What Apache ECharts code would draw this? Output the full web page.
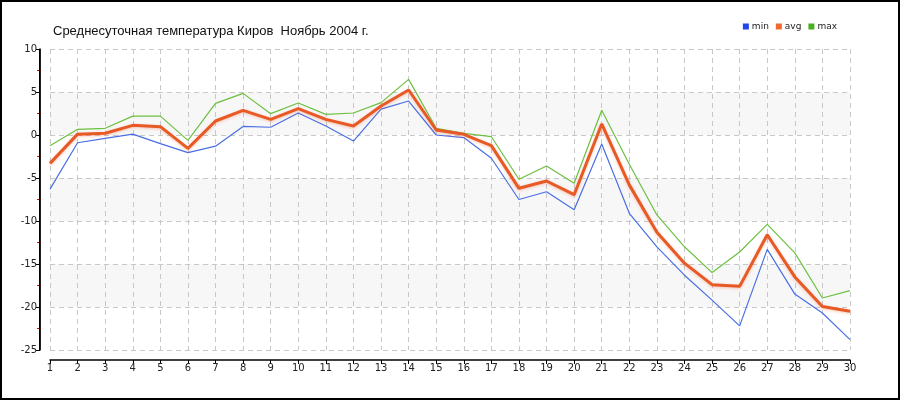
<!DOCTYPE html>
<html><head><meta charset="utf-8">
<script src="https://cdn.jsdelivr.net/npm/echarts@6/dist/echarts.min.js"></script>
<style>html,body{margin:0;padding:0;background:#fff}#c{width:900px;height:400px}</style>
</head><body><div id="c"></div>
<script>
const days = ['1','2','3','4','5','6','7','8','9','10','11','12','13','14','15','16','17','18','19','20','21','22','23','24','25','26','27','28','29','30'];
const minT = [-6.3,-0.9,-0.4,0.1,-1.0,-2.05,-1.3,1.0,0.9,2.56,1.05,-0.7,3.0,3.95,0.0,-0.3,-2.7,-7.5,-6.6,-8.7,-1.05,-9.1,-13.0,-16.3,-19.2,-22.2,-13.3,-18.5,-20.7,-23.8];
const avgT = [-3.3,0.1,0.2,1.12,0.97,-1.55,1.63,2.87,1.82,3.06,1.82,1.05,3.37,5.23,0.58,0.08,-1.24,-6.2,-5.35,-6.94,1.28,-5.8,-11.3,-14.9,-17.4,-17.6,-11.6,-16.5,-19.95,-20.5];
const maxT = [-1.24,0.66,0.78,2.2,2.2,-0.62,3.68,4.84,2.48,3.72,2.4,2.56,3.76,6.47,0.78,0.2,-0.2,-5.15,-3.6,-5.62,2.87,-3.4,-9.3,-13.0,-16.0,-13.6,-10.4,-13.7,-18.95,-18.1];
const yMin = -25, yMax = 10;
const title = 'Среднесуточная температура Киров  Ноябрь 2004 г.';

const GRID = {left:50,right:50,top:49,bottom:50};
const AXIS_OFFSET = 10;
const chart = echarts.init(document.getElementById('c'), null, {renderer:'canvas'});
const font = 'Tahoma, "DejaVu Sans", sans-serif';
const border = {id:'border',type:'rect',shape:{x:1,y:1,width:898,height:398},style:{fill:'none',stroke:'#000',lineWidth:2},silent:true,z:100};
chart.setOption({
  animation:false,
  backgroundColor:'#fff',
  title:{text:title,left:48,top:20,textStyle:{fontFamily:'"Liberation Sans", Arial, sans-serif',fontSize:13,fontWeight:'normal',color:'#111'}},
  legend:{right:58,top:17,itemWidth:6,itemHeight:6,itemGap:7,icon:'rect',
    textStyle:{fontSize:9,fontFamily:font,color:'#222',padding:[0,0,0,-2]},
    data:['min','avg','max']},
  graphic:[border],
  grid:GRID,
  xAxis:{type:'category',data:days,boundaryGap:false,offset:AXIS_OFFSET,position:'bottom',z:5,
    axisLine:{show:true,onZero:false,lineStyle:{color:'#000',width:1.5}},
    axisTick:{show:true,alignWithLabel:true,length:4,inside:false,lineStyle:{color:'#000'}},
    axisLabel:{fontSize:10,fontFamily:font,color:'#222',margin:3,interval:0},
    splitLine:{show:true,lineStyle:{color:'#c8c8c8',type:[5,4]}}},
  yAxis:[
   {type:'value',min:yMin,max:yMax,interval:5,offset:AXIS_OFFSET,position:'left',z:30,
    axisLine:{show:true,onZero:false,lineStyle:{color:'#000000',width:1.5}},
    axisTick:{show:true,length:4,lineStyle:{color:'#000'}},
    minorTick:{show:true,splitNumber:2,length:3,lineStyle:{color:'#e00000'}},
    axisLabel:{fontSize:10,fontFamily:font,color:'#222',margin:3},
    splitLine:{show:false},
    splitArea:{show:false}},
   {type:'value',min:yMin,max:yMax,interval:5,position:'left',z:0,
    axisLine:{show:false},axisTick:{show:false},axisLabel:{show:false},
    splitLine:{show:true,lineStyle:{color:'#c8c8c8',type:[5,4]}},
    splitArea:{show:true,areaStyle:{color:['#ffffff','#f7f7f7']}}}
  ],
  series:[
    {name:'min',type:'line',data:minT,symbol:'none',z:20,color:'#2045e8',lineStyle:{color:'#4a6fe3',width:1.2}},
    {name:'avg',type:'line',data:avgT,symbol:'none',z:22,color:'#f06a30',lineStyle:{color:'#e85a25',width:3,shadowColor:'rgba(240,100,60,0.35)',shadowBlur:3,shadowOffsetY:1}},
    {name:'max',type:'line',data:maxT,symbol:'none',z:21,color:'#48b020',lineStyle:{color:'#6cc040',width:1.2}}
  ]
});
// vertical axis line, positioned from the grid layout / axis scale
let yTop = chart.convertToPixel({yAxisIndex:0}, yMax);
let yBot = chart.convertToPixel({yAxisIndex:0}, yMin);
if (!isFinite(yTop)) yTop = GRID.top;
if (!isFinite(yBot)) yBot = 400 - GRID.bottom;
const axisX = GRID.left - AXIS_OFFSET;
chart.setOption({graphic:[
  border,
  {id:'yline',type:'rect',shape:{x:axisX-1,y:Math.min(yTop,yBot),width:1.5,height:Math.abs(yBot-yTop)},style:{fill:'#000',stroke:null},silent:true,z:100}
]});
</script></body></html>
